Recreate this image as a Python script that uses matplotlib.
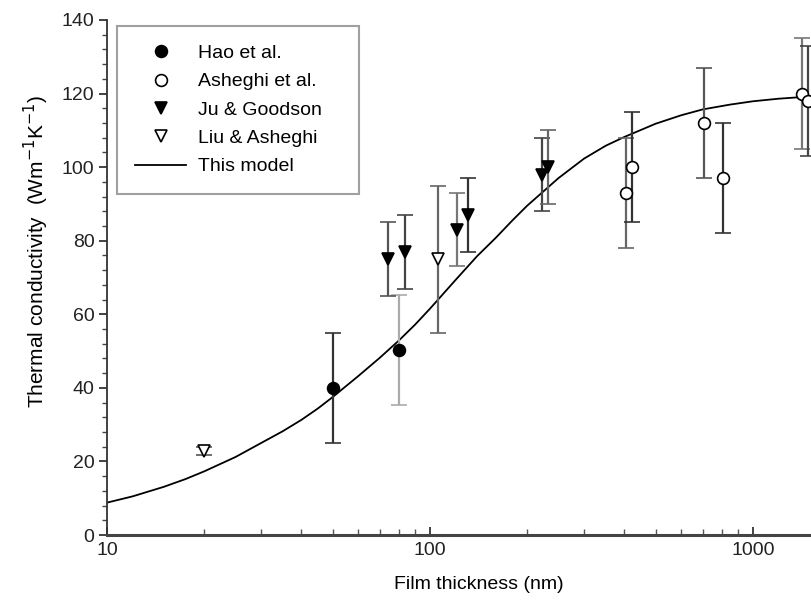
import matplotlib
matplotlib.use("Agg")
import matplotlib.pyplot as plt
from matplotlib.ticker import MultipleLocator, LogLocator, NullFormatter, FixedLocator, FixedFormatter

plt.rcParams['font.family'] = ['Liberation Sans', 'DejaVu Sans']

# ---- data ----
hao_x = [50, 80]
hao_y = [40, 50.3]
hao_err = [15, 15]

asheghi_x = [405, 422, 705, 807, 1419, 1479]
asheghi_y = [93, 100, 112, 97, 120, 118]
asheghi_err = [15, 15, 15, 15, 15, 15]

ju_x = [74, 84, 121, 131, 222, 232]
ju_y = [75, 77, 83, 87, 98, 100]
ju_err = [10, 10, 10, 10, 10, 10]

liu_x = [20, 106]
liu_y = [22.8, 75]
liu_err = [1, 20]

model_x = [10, 12, 15, 17.5, 20, 25, 30, 35, 40, 45, 50, 60, 70, 80, 90, 100, 120, 140,
           160, 180, 200, 250, 300, 350, 400, 500, 600, 700, 850, 1000, 1200, 1500, 2000]
model_y = [8.8, 10.5, 13.1, 15.2, 17.3, 21.2, 25.0, 28.2, 31.3, 34.4, 37.5, 43.2, 48.2,
           52.8, 57.2, 61.5, 69.3, 75.8, 80.8, 85.5, 89.5, 97.0, 102.3, 105.8, 108.2,
           111.8, 114.1, 115.7, 117.0, 117.9, 118.6, 119.2, 119.6]

x_ticks = [10, 100, 1000]
x_tick_labels = ['10', '100', '1000']
y_ticks = [0, 20, 40, 60, 80, 100, 120, 140]

fig = plt.figure(figsize=(8.12, 6.03), dpi=100)
ax = fig.add_axes([107/812, 68/603, (850-107)/812, 515/603])

ax.plot(model_x, model_y, color='black', lw=1.3, label='This model', zorder=2,
        solid_joinstyle='round')

def draw(xs, ys, errs, fmt, mfc, ecolors, label):
    for i, (x, y, e) in enumerate(zip(xs, ys, errs)):
        ax.errorbar([x], [y], yerr=[e], fmt=fmt, color='black', mfc=mfc, mec='black',
                    ms=8.5, mew=1.2, ecolor=ecolors[i], elinewidth=1.6, capsize=5.5,
                    capthick=1.6, zorder=3)
    ax.plot([], [], fmt, color='black', mfc=mfc, mec='black', ms=8.5, mew=1.2,
            label=label)

draw(hao_x, hao_y, hao_err, 'o', 'black', ['#333333', '#aaaaaa'], 'Hao et al.')
draw(asheghi_x, asheghi_y, asheghi_err, 'o', 'white',
     ['#666666', '#333333', '#555555', '#333333', '#777777', '#444444'], 'Asheghi et al.')
draw(ju_x, ju_y, ju_err, 'v', 'black',
     ['#555555', '#444444', '#777777', '#333333', '#444444', '#666666'], 'Ju & Goodson')
draw(liu_x, liu_y, liu_err, 'v', 'white', ['#555555', '#666666'], 'Liu & Asheghi')

ax.set_xscale('log')
ax.set_xlim(10, 2000)
ax.set_ylim(0, 140)

ax.xaxis.set_major_locator(FixedLocator(x_ticks))
ax.xaxis.set_major_formatter(FixedFormatter(x_tick_labels))
ax.xaxis.set_minor_locator(LogLocator(base=10, subs=range(2, 10)))
ax.xaxis.set_minor_formatter(NullFormatter())
ax.set_yticks(y_ticks)
ax.yaxis.set_minor_locator(MultipleLocator(4))

ax.spines['top'].set_visible(False)
ax.spines['right'].set_visible(False)
ax.spines['left'].set_linewidth(1.3)
ax.spines['left'].set_color('#333333')
ax.spines['bottom'].set_linewidth(2.2)
ax.spines['bottom'].set_color('#444444')

ax.tick_params(axis='y', which='major', direction='out', length=6, width=1.2,
               labelsize=14, pad=3, colors='#222222')
ax.tick_params(axis='y', which='minor', direction='out', length=3.5, width=1.0,
               colors='#444444')
ax.tick_params(axis='x', which='major', direction='in', length=6, width=1.2,
               labelsize=14, pad=5, colors='#222222')
ax.tick_params(axis='x', which='minor', direction='in', length=4, width=1.0,
               colors='#555555')

ax.set_xlabel('Film thickness (nm)', fontsize=14, labelpad=12)
ax.set_ylabel('Thermal conductivity  (Wm$^{-1}$K$^{-1}$)', fontsize=15)
ax.yaxis.set_label_coords(-0.075, 0.55)

handles, labels = ax.get_legend_handles_labels()
order = [1, 2, 3, 4, 0]
leg = ax.legend([handles[i] for i in order], [labels[i] for i in order],
                loc='upper left',
                bbox_to_anchor=(117/812, 1-193/603, (359-117)/812, (193-26)/603),
                bbox_transform=fig.transFigure, mode='expand', borderaxespad=0,
                fontsize=14, frameon=True, fancybox=False, edgecolor='#888888',
                handlelength=2.6, handletextpad=0.6, labelspacing=0.55, borderpad=0.95)
leg.get_frame().set_linewidth(1.5)

fig.savefig('out.png', dpi=100)
